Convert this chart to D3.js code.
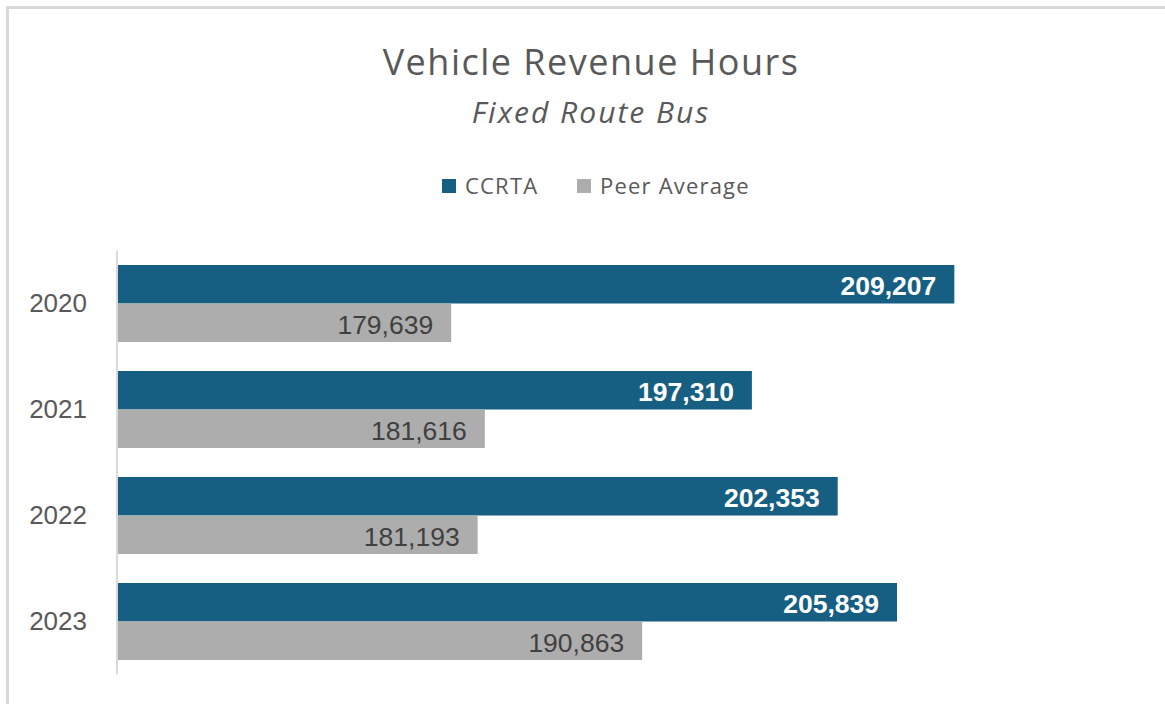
<!DOCTYPE html>
<html>
<head>
<meta charset="utf-8">
<script src="https://cdn.jsdelivr.net/npm/d3@7"></script>
<style>
  html, body { margin: 0; padding: 0; background: #fff; }
  svg { display: block; }
</style>
</head>
<body>
<div id="chart"></div>
<script>
const width = 1165;
const height = 704;

// data
const years = ["2020", "2021", "2022", "2023"];
const seriesNames = ["CCRTA", "Peer Average"];
const ccrta = [209207, 197310, 202353, 205839];
const peerAverage = [179639, 181616, 181193, 190863];
const xDomain = [160000, 220000];

const colors = ["#175f82", "#adadad"];
const labelColors = ["#ffffff", "#404040"];
const labelWeights = ["bold", "normal"];

const rows = years.map((y, i) => ({ year: y, values: [ccrta[i], peerAverage[i]] }));

const svg = d3.select("#chart")
    .append("svg")
    .attr("width", width)
    .attr("height", height);

// outer frame (only top and left edges show in the picture)
svg.append("rect")
    .attr("x", 7.5)
    .attr("y", 7.5)
    .attr("width", width + 20)
    .attr("height", height + 20)
    .style("fill", "none")
    .style("stroke", "#d9d9d9")
    .style("stroke-width", 3);

// title
svg.append("text")
    .attr("x", 591)
    .attr("y", 75)
    .attr("text-anchor", "middle")
    .style("font-family", "'Open Sans', sans-serif")
    .style("font-size", "36px")
    .style("letter-spacing", "1.5px")
    .style("fill", "#595959")
    .text("Vehicle Revenue Hours");

svg.append("text")
    .attr("x", 591)
    .attr("y", 123)
    .attr("text-anchor", "middle")
    .style("font-family", "'Open Sans', sans-serif")
    .style("font-style", "italic")
    .style("font-size", "30px")
    .style("letter-spacing", "2px")
    .style("fill", "#595959")
    .text("Fixed Route Bus");

// legend
const legendX = [442, 577];
const legend = svg.append("g")
    .selectAll("g")
    .data(seriesNames)
    .join("g")
    .attr("transform", (d, i) => `translate(${legendX[i]},179)`);

legend.append("rect")
    .attr("width", 14)
    .attr("height", 14)
    .style("fill", (d, i) => colors[i]);

legend.append("text")
    .attr("x", 23)
    .attr("y", 15)
    .style("font-family", "'Open Sans', sans-serif")
    .style("font-size", "22px")
    .style("letter-spacing", "1.2px")
    .style("fill", "#595959")
    .text(d => d);

// scales
const x = d3.scaleLinear()
    .domain(xDomain)
    .range([117, 1138]);

const y = d3.scaleBand()
    .domain(years)
    .range([250.5, 674.5])
    .paddingInner(0.2736)
    .paddingOuter(0.1368);

const ySub = d3.scaleBand()
    .domain(d3.range(seriesNames.length))
    .range([0, y.bandwidth()]);

const fmt = d3.format(",");

// bars
const groups = svg.append("g")
    .selectAll("g")
    .data(rows)
    .join("g")
    .attr("transform", d => `translate(0,${y(d.year)})`);

groups.selectAll("rect")
    .data(d => d.values.map((v, i) => ({ v, i })))
    .join("rect")
    .attr("x", x(xDomain[0]))
    .attr("y", d => ySub(d.i))
    .attr("width", d => x(d.v) - x(xDomain[0]))
    .attr("height", ySub.bandwidth())
    .style("fill", d => colors[d.i]);

groups.selectAll("text")
    .data(d => d.values.map((v, i) => ({ v, i })))
    .join("text")
    .attr("x", d => x(d.v) - 18)
    .attr("y", d => ySub(d.i) + ySub.bandwidth() / 2 + 11)
    .attr("text-anchor", "end")
    .style("font-family", "'Liberation Sans', Arial, sans-serif")
    .style("font-size", "26.5px")
    .style("font-weight", d => labelWeights[d.i])
    .style("fill", d => labelColors[d.i])
    .text(d => fmt(d.v));

// category axis
const yAxis = svg.append("g")
    .attr("transform", `translate(${x(xDomain[0])},0)`)
    .call(d3.axisLeft(y).tickSize(0).tickPadding(30));

yAxis.select(".domain")
    .attr("d", `M0,${y.range()[0]}V${y.range()[1]}`)
    .style("stroke", "#d9d9d9")
    .style("stroke-width", 2);

yAxis.selectAll("text")
    .style("font-family", "'Liberation Sans', Arial, sans-serif")
    .style("font-size", "26px")
    .style("fill", "#595959");
</script>
</body>
</html>
